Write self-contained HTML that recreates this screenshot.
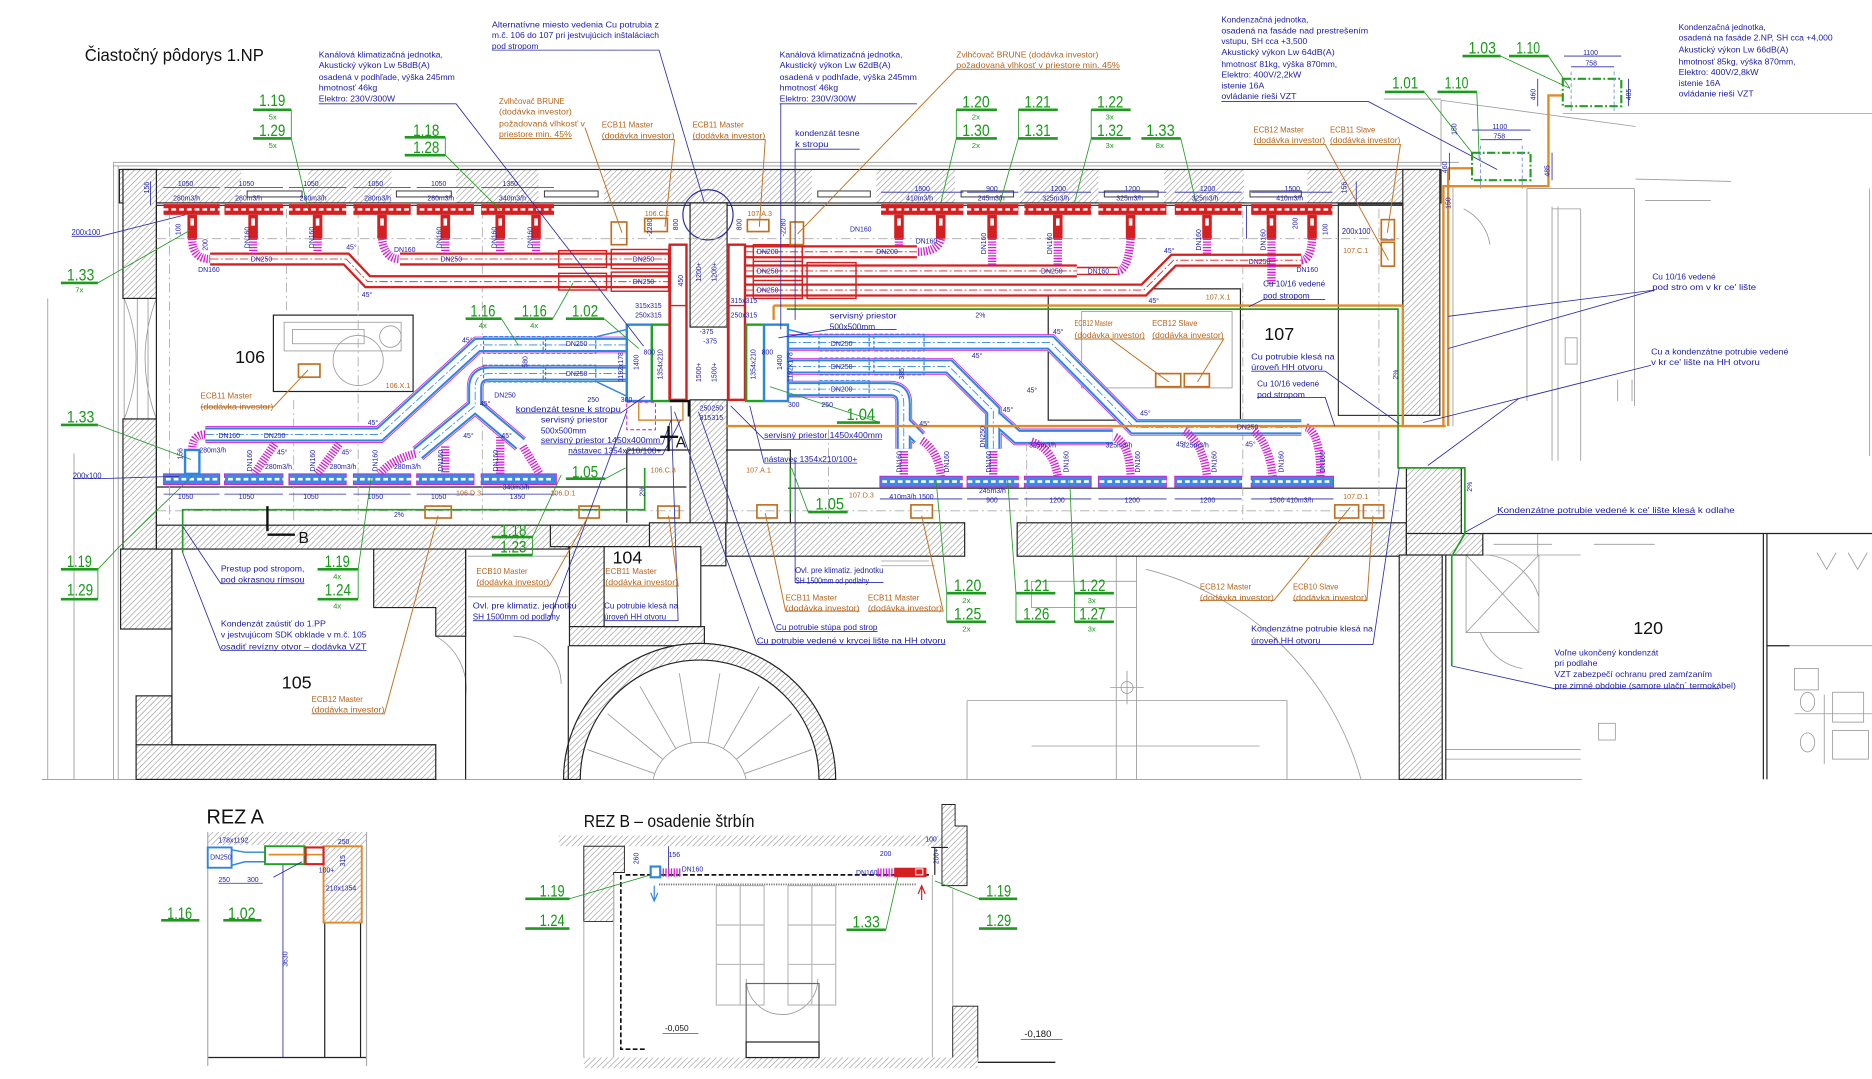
<!DOCTYPE html>
<html><head><meta charset="utf-8">
<style>
html,body{margin:0;padding:0;background:#fff;overflow:hidden}
svg{display:block}
text{font-family:"Liberation Sans",sans-serif}
.b{fill:#1c1ca8;font-size:7px}
.o{fill:#b5651d;font-size:7px}
.g{fill:#179a17;font-size:14px}
.gs{fill:#179a17;font-size:6.5px}
.d{fill:#1c1ca8;font-size:6.2px}
.ds{fill:#1c1ca8;font-size:5.8px}
.k{fill:#111}
.rd{fill:none;stroke:#d42020;stroke-width:11;stroke-linejoin:miter}
.rw{fill:none;stroke:#fff;stroke-width:7.2}
.rc{fill:none;stroke:#d42020;stroke-width:.7;stroke-dasharray:7 2 1.5 2}
.bmg{fill:none;stroke:#d61fd6;stroke-width:14}
.bw0{fill:none;stroke:#fff;stroke-width:12.6}
.bb{fill:none;stroke:#2f86e0;stroke-width:11.8}
.bw{fill:none;stroke:#fff;stroke-width:8.4}
.bc{fill:none;stroke:#2f86e0;stroke-width:.7;stroke-dasharray:7 2 1.5 2}
.mg{fill:none;stroke:#d61fd6;stroke-width:7;stroke-dasharray:1.1 1.2}
.lb{fill:none;stroke:#2a2aa8;stroke-width:.7}
.lo{fill:none;stroke:#c07020;stroke-width:.8}
.lg{fill:none;stroke:#1f9a1f;stroke-width:.7}
.ul{stroke:#1f9a1f;stroke-width:2.2}
.gr{fill:none;stroke:#9a9a9a;stroke-width:.7}
.dd{fill:none;stroke:#aaa;stroke-width:.7;stroke-dasharray:8 3 1.5 3}
.w{fill:url(#h);stroke:#222;stroke-width:1}
.ob{fill:none;stroke:#c07020;stroke-width:1.4}
</style></head><body>
<svg width="1872" height="1079" viewBox="0 0 1568 904" preserveAspectRatio="none" xmlns="http://www.w3.org/2000/svg" xmlns:xlink="http://www.w3.org/1999/xlink">
<defs>
<pattern id="h" width="3.4" height="3.4" patternUnits="userSpaceOnUse" patternTransform="rotate(45)"><rect width="3.4" height="3.4" fill="#fff"/><line x1="0" y1="0" x2="0" y2="3.4" stroke="#8a8a8a" stroke-width="0.9"/></pattern>
<path id="r1" d="M176,217 H290 L308,236 H561"/>
<path id="r2" d="M335,217 H561"/>
<path id="r3" d="M624,211 H768"/>
<path id="r4" d="M624,227 H902"/>
<path id="r5" d="M624,243 H958 L983,218 H1090"/>
<path id="b1" d="M525,289 H400 L318,364 H172"/>
<path id="b2" d="M525,313 H410 Q398,313 398,325 V340 L350,380"/>
<path id="b3" d="M398,340 L436,372"/>
<path id="b4" d="M660,287 H880 L950,358 H1090"/>
<path id="b5" d="M660,307 H795 L832,344 V376"/>
<path id="b6" d="M834,350 L852,366 H932"/>
<path id="b7" d="M660,326 H745 Q757,326 757,338 V376"/>
<path id="b8" d="M757,354 L770,367"/>
</defs>

<!-- ============ TITLE ============ -->
<text class="k" x="71" y="51" font-size="15" textLength="150" lengthAdjust="spacingAndGlyphs">Čiastočný pôdorys 1.NP</text>

<!-- ============ LIGHT BACKGROUND LINES ============ -->
<g class="gr">
<path d="M95,136 H1222 M95,139 H1207"/>
<path d="M95,136 V653 M99,139 V653 M40,250 V653 M62,380 V653"/>
<path d="M35,653 H1325"/>
<path d="M104,250 V351 M115,250 V351 M124,250 V351 M131,250 V351"/>
<path d="M131,250 Q112,300 131,351 M104,250 Q124,300 104,351"/>
<path d="M1159,83 H1207 M1207,84 L1370,106 M1309,95 H1568 M1207,84 V139 M1279,158 H1369 M1279,158 V336 M1369,158 V340 M1378,168 H1433 M1370,150 L1450,152"/>
<path d="M1300,173 V386 M1305,173 V386 M1324,175 V386 M1300,175 H1324 M1355,318 V336 M1367,318 V336 M1566,158 V382"/>
<path d="M1217,155 V357"/>
<path d="M1226,175 A40,40 0 0 1 1248,205"/>
<path d="M1311,283 h10 v22 h-10z"/>
<path d="M810,587 H1078 V653 M810,587 V653 M864,625 H1055 M935,466 V653 M952,466 V653 M864,487 h88 v22 h-88z"/>
<path d="M960,477 A250,250 0 0 1 1140,653"/>
<path d="M930,576 h28 M944,562 v28"/>
<circle cx="944" cy="576" r="5"/>
<path d="M738,470 h40 M738,474 h45"/>
<path d="M1228,465 h61 v65 h-61z M1228,465 L1289,530 M1289,465 L1228,530"/>
<path d="M1245,465 A50,50 0 0 1 1289,500 M1240,530 A45,45 0 0 0 1275,560"/>
<path d="M1251,456 H1300 M1335,456 H1386"/>
<path d="M1288,447 V465 H1324"/>
<path d="M1211,628 H1324 M1211,636 H1324"/>
<path d="M1499,541 H1568"/>
<rect x="1339" y="606" width="14" height="14"/>
<rect x="1503" y="560" width="20" height="18"/>
<rect x="1535" y="580" width="26" height="25"/>
<rect x="1535" y="612" width="30" height="24"/>
<path d="M1503,598 H1568 M1528,582 V640 M1508,588 a6,8 0 1 0 12,0 a6,8 0 1 0 -12,0 M1508,622 a6,8 0 1 0 12,0 a6,8 0 1 0 -12,0"/>
<path d="M1522,463 l8,14 l8,-14 M1548,463 l8,14 l8,-14"/>
<path d="M392,466 H476 M392,500 h84 M430,533 a40,40 0 0 1 40,40"/>
<path d="M365,533 A50,50 0 0 1 390,583"/>
<!-- stair steps -->
<path d="M548,648 L492,628 M555,636 L509,598 M566,627 L536,575 M579,623 L569,564 M593,623 L603,564 M606,627 L636,575 M617,636 L663,598 M624,648 L680,628"/>
<path d="M547,653 A40,40 0 0 1 625,653"/>
<path d="M625,820 a30,30 0 0 0 60,0"/>
</g>

<!-- ============ WALLS ============ -->
<g class="w">
<rect x="100" y="142" width="1107" height="28"/>
<rect x="103" y="142" width="28" height="108"/>
<rect x="103" y="351" width="28" height="109"/>
<rect x="101" y="460" width="43" height="67"/>
<rect x="114" y="583" width="30" height="70"/>
<rect x="114" y="624" width="251" height="29"/>
<rect x="131" y="440" width="345" height="20"/>
<path d="M313,460 H390 V533 H365 V509 H313 Z"/>
<rect x="461" y="440" width="129" height="18"/>
<rect x="477" y="458" width="29" height="67"/>
<rect x="477" y="525" width="113" height="16"/>
<rect x="578" y="170" width="31" height="104"/>
<rect x="578" y="335" width="31" height="110"/>
<rect x="544" y="438" width="64" height="36"/>
<rect x="608" y="438" width="200" height="28"/>
<rect x="852" y="438" width="326" height="28"/>
<rect x="1175" y="142" width="31" height="206"/>
<rect x="1178" y="392" width="46" height="55"/>
<rect x="1178" y="447" width="64" height="18"/>
<rect x="1172" y="465" width="36" height="188"/>
<path d="M472,653 A114,114 0 0 1 700,653 H686 A100,100 0 0 0 486,653 Z"/>
</g>
<!-- window gaps in top wall -->
<g fill="#fff" stroke="#333" stroke-width=".8">
<rect x="202" y="142.5" width="56" height="27" stroke="none"/>
<rect x="328" y="142.5" width="54" height="27" stroke="none"/>
<rect x="451" y="142.5" width="55" height="27" stroke="none"/>
<rect x="680" y="142.5" width="54" height="27" stroke="none"/>
<rect x="800" y="142.5" width="54" height="27" stroke="none"/>
<rect x="920" y="142.5" width="55" height="27" stroke="none"/>
<rect x="1042" y="142.5" width="53" height="27" stroke="none"/>
<rect x="207" y="160" width="46" height="5"/>
<rect x="332" y="160" width="46" height="5"/>
<rect x="456" y="160" width="45" height="5"/>
<rect x="685" y="160" width="44" height="5"/>
<rect x="805" y="160" width="44" height="5"/>
<rect x="925" y="160" width="45" height="5"/>
<rect x="1047" y="160" width="43" height="5"/>
</g>
<circle cx="593" cy="180" r="21" fill="none" stroke="#2a2aa8" stroke-width="1"/>

<!-- room outlines -->
<g fill="none" stroke="#222" stroke-width="1">
<path d="M131,172 H578 M131,440 V172 M609,172 H1175"/>
<path d="M131,408 H575 M660,409 H1178 M608,377 H662 V438 M525,377 H578 M525,377 V438"/>
<path d="M144,460 V624 H365 M390,460 V653 M476,541 V653"/>
<rect x="506" y="458" width="81" height="67" fill="#fff"/>
<rect x="1121" y="171" width="54" height="177" stroke-width=".9"/>
<rect x="878" y="242" width="161" height="110"/>
<path d="M1242,447 H1568 M1211,465 V653 M1477,447 V653 M1480,447 V653 M1480,541 H1499"/>
<rect x="229" y="264" width="117" height="64"/>
</g>
<g class="gr">
<rect x="906" y="261" width="126" height="64"/>
<rect x="238" y="270" width="98" height="24"/>
<rect x="245" y="276" width="60" height="12"/>
<circle cx="300" cy="302" r="21"/>
<circle cx="327" cy="282" r="9"/>
</g>
<!-- dash-dot ceiling grid -->
<g class="dd">
<path d="M131,200 H1172 M131,428 H575 M610,428 H1172"/>
<path d="M142,175 V438 M240,175 V260 M246,335 V438 M300,175 V438 M404,175 V438 M1041,175 V438 M1155,175 V438 M694,360 V438 M860,370 V438"/>
</g>

<!-- ============ RED SUPPLY ============ -->
<g>
<use href="#r1" class="rd"/><use href="#r1" class="rw"/><use href="#r1" class="rc"/>
<use href="#r2" class="rd"/><use href="#r2" class="rw"/><use href="#r2" class="rc"/>
<use href="#r3" class="rd"/><use href="#r3" class="rw"/><use href="#r3" class="rc"/>
<use href="#r4" class="rd"/><use href="#r4" class="rw"/><use href="#r4" class="rc"/>
<use href="#r5" class="rd"/><use href="#r5" class="rw"/><use href="#r5" class="rc"/>
<path d="M902,227 H936" stroke="#d42020" stroke-width="7" fill="none"/><path d="M902,227 H936" stroke="#fff" stroke-width="4.6" fill="none"/>
</g>
<g fill="none" stroke="#d42020" stroke-width="1.2">
<rect x="468" y="210" width="40" height="14"/><rect x="468" y="229" width="40" height="14"/>
<rect x="512" y="209" width="48" height="16"/><rect x="512" y="228" width="48" height="16"/>
<rect x="631" y="205" width="41" height="45"/><rect x="676" y="220" width="41" height="30"/>
<path d="M631,219 H672 M631,235 H672"/>
<rect x="561" y="205" width="14" height="130" stroke-width="2"/>
<rect x="610" y="205" width="14" height="130" stroke-width="2"/>
<path d="M561,256 H575 M610,256 H624"/>
</g>
<!-- red bars top -->
<g fill="#d42020">
<rect x="137" y="171" width="47" height="9"/><rect x="188" y="171" width="49" height="9"/><rect x="242" y="171" width="48" height="9"/>
<rect x="296" y="171" width="48" height="9"/><rect x="349" y="171" width="48" height="9"/><rect x="403" y="171" width="61" height="9"/>
<rect x="738" y="171" width="69" height="9"/><rect x="810" y="171" width="43" height="9"/><rect x="858" y="171" width="56" height="9"/>
<rect x="920" y="171" width="57" height="9"/><rect x="984" y="171" width="56" height="9"/><rect x="1048" y="171" width="68" height="9"/>
</g>
<path d="M137,175.5 H464 M738,175.5 H1116" stroke="#fff" stroke-width="2" stroke-dasharray="4 2.5"/>
<g fill="#d42020">
<rect x="157" y="180" width="8" height="20"/><rect x="208" y="180" width="8" height="20"/><rect x="262" y="180" width="8" height="20"/>
<rect x="316" y="180" width="8" height="20"/><rect x="369" y="180" width="8" height="20"/><rect x="415" y="180" width="8" height="20"/>
<rect x="445" y="180" width="8" height="20"/>
<rect x="749" y="180" width="8" height="20"/><rect x="784" y="180" width="8" height="20"/><rect x="827" y="180" width="8" height="20"/>
<rect x="882" y="180" width="8" height="20"/><rect x="943" y="180" width="8" height="20"/><rect x="1007" y="180" width="8" height="20"/>
<rect x="1061" y="180" width="8" height="20"/><rect x="1095" y="180" width="8" height="20"/>
</g>
<path d="M161,183 v6 M212,183 v6 M266,183 v6 M320,183 v6 M373,183 v6 M419,183 v6 M449,183 v6 M753,183 v6 M788,183 v6 M831,183 v6 M886,183 v6 M947,183 v6 M1011,183 v6 M1065,183 v6 M1099,183 v6" stroke="#fff" stroke-width="3"/>
<!-- magenta flex (red) -->
<g class="mg">
<path d="M161,200 Q161,217 176,217"/><path d="M212,200 V212"/><path d="M266,200 V211"/><path d="M320,200 Q322,217 335,217"/>
<path d="M373,200 V212"/><path d="M419,200 V212"/><path d="M449,200 V212"/>
<path d="M753,200 V206"/><path d="M788,200 Q786,211 768,211"/><path d="M831,200 V222"/><path d="M886,200 V222"/>
<path d="M947,200 Q945,227 936,227"/><path d="M1011,200 V213"/><path d="M1065,200 V238"/><path d="M1099,200 Q1098,218 1090,218"/>
</g>

<!-- ============ BLUE RETURN ============ -->
<g>
<use href="#b1" class="bmg"/><use href="#b2" class="bmg"/><use href="#b3" class="bmg"/>
<use href="#b4" class="bmg"/><use href="#b5" class="bmg"/><use href="#b6" class="bmg"/><use href="#b7" class="bmg"/><use href="#b8" class="bmg"/>
<use href="#b1" class="bw0"/><use href="#b2" class="bw0"/><use href="#b3" class="bw0"/>
<use href="#b4" class="bw0"/><use href="#b5" class="bw0"/><use href="#b6" class="bw0"/><use href="#b7" class="bw0"/><use href="#b8" class="bw0"/>
<use href="#b1" class="bb"/><use href="#b2" class="bb"/><use href="#b3" class="bb"/>
<use href="#b4" class="bb"/><use href="#b5" class="bb"/><use href="#b6" class="bb"/><use href="#b7" class="bb"/><use href="#b8" class="bb"/>
<use href="#b1" class="bw"/><use href="#b2" class="bw"/><use href="#b3" class="bw"/>
<use href="#b4" class="bw"/><use href="#b5" class="bw"/><use href="#b6" class="bw"/><use href="#b7" class="bw"/><use href="#b8" class="bw"/>
<use href="#b1" class="bc"/><use href="#b2" class="bc"/><use href="#b4" class="bc"/><use href="#b5" class="bc"/><use href="#b7" class="bc"/>
</g>
<g fill="none" stroke="#2f86e0" stroke-width="1" stroke-dasharray="3 1.5">
<rect x="405" y="282" width="50" height="14"/><rect x="457" y="282" width="42" height="14"/>
<rect x="405" y="306" width="50" height="14"/><rect x="457" y="306" width="42" height="14"/>
<rect x="686" y="280" width="42" height="14"/><rect x="732" y="280" width="42" height="14"/>
<rect x="686" y="300" width="42" height="14"/><rect x="732" y="300" width="42" height="14"/>
<rect x="686" y="319" width="42" height="14"/>
</g>
<!-- plenums -->
<g fill="#fff" stroke-width="2">
<rect x="525" y="272" width="21" height="64" stroke="#2f86e0"/>
<rect x="546" y="272" width="15" height="64" stroke="#22a022"/>
<rect x="625" y="272" width="15" height="64" stroke="#22a022"/>
<rect x="640" y="272" width="20" height="64" stroke="#2f86e0"/>
</g>
<path d="M561,335 V205 M610,335 V205" stroke="#d42020" stroke-width="2.4"/>
<path d="M500,282 L525,276 M500,320 L525,332 M660,276 L680,281 M660,332 L680,331" stroke="#2f86e0" stroke-width="1.2"/>
<rect x="525" y="337" width="24" height="23" fill="none" stroke="#d61fd6" stroke-width=".9" stroke-dasharray="3 2"/>
<path d="M535,337 V352 H572 V337" fill="none" stroke="#d88a30" stroke-width="1.2"/>
<!-- blue bars -->
<g fill="#3a8ae0" stroke="#d61fd6" stroke-width=".8">
<rect x="137" y="397" width="47" height="9"/><rect x="188" y="397" width="49" height="9"/><rect x="242" y="397" width="48" height="9"/>
<rect x="296" y="397" width="48" height="9"/><rect x="349" y="397" width="48" height="9"/><rect x="403" y="397" width="63" height="9"/>
<rect x="737" y="399" width="69" height="9"/><rect x="810" y="399" width="43" height="9"/><rect x="858" y="399" width="56" height="9"/>
<rect x="920" y="399" width="57" height="9"/><rect x="984" y="399" width="56" height="9"/><rect x="1048" y="399" width="69" height="9"/>
</g>
<path d="M139,401.5 H464 M739,403.5 H1115" stroke="#fff" stroke-width="2.2" stroke-dasharray="4 2.5"/>
<rect x="155" y="377" width="12" height="20" fill="#fff" stroke="#2f86e0" stroke-width="2"/>
<g class="mg">
<path d="M172,364 Q161,364 161,377"/><path d="M230,372 L213,397"/><path d="M284,372 L266,397"/><path d="M348,380 Q328,385 318,397"/>
<path d="M373,374 V397"/><path d="M419,366 V397"/><path d="M438,374 L452,397"/>
<path d="M757,378 V399"/><path d="M772,369 Q786,378 788,399"/><path d="M832,378 V399"/><path d="M864,370 Q882,376 886,399"/>
<path d="M934,366 Q946,372 947,399"/><path d="M992,361 Q1008,372 1011,399"/><path d="M1050,361 Q1063,372 1066,399"/><path d="M1094,358 Q1106,362 1106,399"/>
</g>

<!-- ============ ORANGE / GREEN PIPES ============ -->
<g fill="none" stroke="#e08a2a" stroke-width="2">
<path d="M648,256 H1175 V357"/>
<path d="M608,357 H1211"/>
<path d="M1209,155 V357 M1213,141 V357"/>
<path d="M1233,141 H1213 M1309,80 H1297 V156 H1209"/>
<path d="M648,256 V268"/>
</g>
<g fill="none" stroke="#22a022" stroke-width="1.4">
<path d="M659,259 H1171 V392 H1227 V447 L1216,466 V558"/>
<path d="M153,463 V427 H540 V392"/>
<path d="M662,392 V430"/>
</g>

<!-- orange boxes -->
<g class="ob">
<rect x="540" y="183" width="19" height="11"/><rect x="512" y="186" width="13" height="19"/>
<rect x="626" y="184" width="18" height="10"/><rect x="662" y="186" width="11" height="19"/>
<rect x="250" y="305" width="18" height="11"/>
<rect x="968" y="313" width="21" height="11"/><rect x="992" y="313" width="21" height="11"/>
<rect x="1157" y="184" width="11" height="17"/><rect x="1157" y="203" width="11" height="20"/>
<rect x="356" y="424" width="22" height="10"/><rect x="485" y="424" width="17" height="10"/><rect x="551" y="424" width="18" height="10"/>
<rect x="634" y="423" width="17" height="11"/><rect x="763" y="423" width="18" height="11"/>
<rect x="1118" y="423" width="20" height="11"/><rect x="1142" y="423" width="17" height="11"/>
</g>

<!-- ============ DIMENSION LINES (thin blue) ============ -->
<g class="lb" stroke-width=".5">
<path d="M137,157 H184 M188,157 H237 M242,157 H290 M296,157 H344 M349,157 H397 M403,157 H464"/>
<path d="M738,161 H807 M810,161 H853 M858,161 H914 M920,161 H977 M984,161 H1040 M1048,161 H1116"/>
<path d="M137,414 H184 M188,414 H237 M242,414 H290 M296,414 H344 M349,414 H397 M403,414 H466"/>
<path d="M737,418 H806 M810,418 H853 M858,418 H914 M920,418 H977 M984,418 H1040 M1048,418 H1117"/>
<path d="M126,152 V172 M1136,152 V172"/>
<path d="M237,724 V886 M560,708 V730 M1044,172 V200"/>
</g>

<!-- ============ LEADER LINES ============ -->
<g class="lb">
<path d="M267,87 H382 L539,290"/>
<path d="M412,42 H552 L590,170"/>
<path d="M653,87 H768 M654,87 V276"/>
<path d="M720,125 H666 V268"/>
<path d="M1023,85 H1146 L1254,142"/>
<path d="M60,198 H84 L155,180"/>
<path d="M61,401 H84 L150,399"/>
<path d="M185,489 H255 M185,489 L153,441"/>
<path d="M185,545 H307 M185,545 L153,463"/>
<path d="M396,520 H460 L525,345"/>
<path d="M506,520 H568 L562,340"/>
<path d="M432,346 H520 L540,332"/>
<path d="M453,372 H555 L562,352 M476,381 H555 L570,352"/>
<path d="M666,488 H740 M666,488 V385"/>
<path d="M650,529 H735 M650,529 L585,345"/>
<path d="M634,540 H792 M634,540 L565,345"/>
<path d="M1048,540 H1150 L1172,392"/>
<path d="M1386,243 L1213,265 M1386,243 L1213,292"/>
<path d="M1383,306 L1272,334 M1383,306 L1192,354 M1272,334 L1196,390"/>
<path d="M1254,431 H1420 M1254,431 L1227,446"/>
<path d="M1302,577 H1440 M1302,577 L1216,558"/>
<path d="M1058,251 H1110 M1058,251 L1046,257"/>
<path d="M1048,311 H1110 L1172,355"/>
<path d="M1053,333 H1110 L1118,357"/>
<path d="M695,276 H751 M695,276 L652,283"/>
<path d="M640,368 H739 M640,368 L612,340"/>
<path d="M640,388 H718 M640,388 L628,340"/>
</g>
<g class="lo">
<path d="M418,116 H479 M490,107 L521,195"/>
<path d="M504,117 H565 L557,190"/>
<path d="M580,117 H641 L636,190"/>
<path d="M801,58 H938 M801,58 L668,196"/>
<path d="M1050,121 H1110 L1163,218"/>
<path d="M1114,121 H1173 L1162,195"/>
<path d="M168,341 H229 L258,310"/>
<path d="M261,598 H322 L367,432"/>
<path d="M399,491 H460 L493,432"/>
<path d="M507,491 H568 L560,432"/>
<path d="M658,512 H720 M658,512 L641,430"/>
<path d="M727,512 H790 L772,432"/>
<path d="M1005,503 H1067 L1131,425"/>
<path d="M1083,503 H1145 L1150,432"/>
<path d="M900,284 H959 M930,284 L979,320"/>
<path d="M965,284 H1025 L1003,320"/>
</g>
<g class="lg">
<path d="M244,92 V116 L258,175"/>
<path d="M373,115 V130 L419,176"/>
<path d="M82,237 L159,193"/>
<path d="M82,356 L160,385"/>
<path d="M82,477 V502 M82,477 L99,459 L161,399"/>
<path d="M300,477 V502 M300,477 L311,399"/>
<path d="M420,267 L434,289"/>
<path d="M463,267 L480,237"/>
<path d="M506,267 L535,292"/>
<path d="M446,450 V465 M446,450 L470,398"/>
<path d="M507,401 L524,392"/>
<path d="M737,354 L645,324"/>
<path d="M677,429 L663,392"/>
<path d="M801,92 V116 L788,170"/>
<path d="M853,92 V116 L837,172"/>
<path d="M914,92 V116 L900,170"/>
<path d="M989,116 L1002,170"/>
<path d="M793,497 V521 M793,497 L784,402"/>
<path d="M851,497 V521 M851,497 L844,402"/>
<path d="M900,497 V521 M900,497 L896,402"/>
<path d="M1193,77 L1233,128"/>
<path d="M1237,77 L1239,134"/>
<path d="M1257,47 L1315,74"/>
<path d="M1297,47 L1315,74"/>
</g>

<!-- ============ TOP RIGHT UNITS ============ -->
<g fill="none" stroke="#22a022" stroke-width="1.8" stroke-dasharray="7 2 1.5 2">
<rect x="1233" y="128" width="49" height="23"/>
<rect x="1309" y="66" width="49" height="23"/>
</g>
<g class="lb" stroke-width=".6">
<path d="M1233,109 H1282 M1240,117 H1275 M1214,128 V151 M1300,128 V151 M1310,47 H1358 M1316,56 H1352 M1288,66 V89 M1364,66 V89"/>
<path d="M1240,122 V158 M1275,122 V158 M1316,60 V94 M1352,60 V94" stroke="#6a8ad0" stroke-dasharray="3 2"/>
</g>
<text class="ds" x="1250" y="108">1100</text><text class="ds" x="1251" y="116">758</text>
<text class="ds" x="1326" y="46">1100</text><text class="ds" x="1328" y="55">758</text>
<text class="ds" transform="translate(1212,145) rotate(-90)">460</text>
<text class="ds" transform="translate(1298,148) rotate(-90)">485</text>
<text class="ds" transform="translate(1286,84) rotate(-90)">460</text>
<text class="ds" transform="translate(1366,84) rotate(-90)">485</text>
<text class="ds" transform="translate(1220,113) rotate(-90)">150</text>
<text class="ds" transform="translate(1215,175) rotate(-90)">150</text>

<!-- ============ SECTION MARKERS ============ -->
<path d="M224,424 V445 M224,448 H247" stroke="#111" stroke-width="2" fill="none"/>
<text class="k" x="250" y="455" font-size="13">B</text>
<path d="M561,336 H577 V349 M553,366 H568 M560,357 V378" stroke="#111" stroke-width="2" fill="none"/>
<text class="k" x="566" y="375" font-size="13">A</text>

<!-- ============ REZ A ============ -->
<text class="k" x="173" y="690" font-size="17" textLength="48" lengthAdjust="spacingAndGlyphs">REZ A</text>
<rect x="174" y="697" width="133" height="11" fill="url(#h)" stroke="none"/>
<g fill="none" stroke="#222" stroke-width="1">
<path d="M174,886 H307 M272,724 V886 M302,709 V886"/>
</g>
<path d="M174,697 V893 M307,697 V893" stroke="#aaa" stroke-width="1"/>
<rect x="271" y="709" width="32" height="64" fill="url(#h)" stroke="#e08a2a" stroke-width="1.6"/>
<rect x="174" y="710" width="20" height="17" fill="#fff" stroke="#2f86e0" stroke-width="1.6"/>
<path d="M194,712 L205,714 H222 M194,725 L205,722 H222" stroke="#2f86e0" stroke-width="1.2" fill="none"/>
<rect x="222" y="709" width="33" height="15" fill="#fff" stroke="#22a022" stroke-width="1.6"/>
<path d="M225,716 H270" stroke="#e08a2a" stroke-width="1.4"/>
<rect x="256" y="710" width="15" height="14" fill="none" stroke="#d42020" stroke-width="1.8"/>
<text class="ds" x="176" y="720">DN250</text>
<text class="ds" x="183" y="706">178x1192</text>
<text class="ds" x="283" y="707">250</text>
<text class="ds" x="183" y="739">250</text><text class="ds" x="207" y="739">300</text>
<text class="ds" x="267" y="731">100+</text>
<text class="ds" x="273" y="746">210x1354</text>
<text class="ds" transform="translate(289,726) rotate(-90)">315</text>
<text class="ds" transform="translate(241,810) rotate(-90)">3630</text>
<path d="M183,740 H220 M229,735 L253,722" class="lb"/>

<!-- ============ REZ B ============ -->
<text class="k" x="489" y="693" font-size="15" textLength="143" lengthAdjust="spacingAndGlyphs">REZ B – osadenie štrbín</text>
<rect x="468" y="700" width="324" height="9" fill="url(#h)" stroke="none"/>
<path d="M489,709 H523 V731 H514 V772 H489 Z" fill="url(#h)" stroke="#222" stroke-width=".8"/>
<path d="M789,674 H800 V692 H810 V742 H789 Z" fill="url(#h)" stroke="#222" stroke-width=".8"/>
<rect x="798" y="843" width="21" height="45" fill="url(#h)" stroke="#222" stroke-width=".8"/>
<rect x="489" y="886" width="330" height="9" fill="url(#h)" stroke="none"/>
<path d="M819,890 H884" stroke="#222" stroke-width="1.2"/>
<g fill="none" stroke="#bbb" stroke-width="1">
<path d="M489,772 V886 M514,733 V886 M781,733 V886 M798,745 V843"/>
<rect x="600" y="742" width="40" height="100"/><rect x="660" y="742" width="40" height="100"/>
<path d="M600,775 H640 M600,808 H640 M660,775 H700 M660,808 H700 M620,742 V842 M680,742 V842"/>
</g>
<path d="M524,733 H778 M520,733 V879 H540" stroke="#111" stroke-width="1.4" stroke-dasharray="4 2" fill="none"/>
<path d="M552,741 H768" stroke="#777" stroke-width="1.5" stroke-dasharray="1 1"/>
<rect x="625" y="824" width="61" height="62" fill="none" stroke="#666" stroke-width="1"/>
<rect x="625" y="873" width="61" height="13" fill="#fff" stroke="#222" stroke-width="1"/>
<path d="M780,710 H794 M783,710 V733" stroke="#222" stroke-width="1" fill="none"/>
<rect x="545" y="726" width="8" height="9" fill="#fff" stroke="#2f86e0" stroke-width="1.8"/>
<path d="M555,731 H570" class="mg" stroke-width="5"/>
<path d="M735,731 H749" class="mg" stroke-width="5"/>
<rect x="749" y="727" width="27" height="8" fill="#d42020"/>
<rect x="767" y="728" width="6" height="5" fill="none" stroke="#fff" stroke-width=".8"/>
<path d="M548,742 V754 M545,748 L548,755 L551,748" stroke="#2f86e0" stroke-width="1" fill="none"/>
<path d="M772,742 V754 M769,749 L772,742 L775,749" stroke="#d42020" stroke-width="1" fill="none"/>
<text class="ds" x="571" y="730">DN160</text>
<text class="ds" x="717" y="733">DN160</text>
<text class="ds" x="560" y="718">156</text>
<text class="ds" x="737" y="717">200</text>
<text class="ds" x="775" y="705">100</text>
<text class="ds" transform="translate(535,724) rotate(-90)">260</text>
<text class="ds" transform="translate(786,724) rotate(-90)">200+</text>
<text class="k" x="557" y="864" font-size="7">-0,050</text>
<text class="k" x="858" y="869" font-size="8">-0,180</text>
<path d="M555,866 H585 M855,871 H890" stroke="#555" stroke-width=".6"/>
<path d="M477,753 L545,733 M820,753 L783,738 M742,779 L752,735" class="lg"/>

<!-- ============ GREEN LABELS ============ -->
<g class="g">
<text x="217" y="89" textLength="22" lengthAdjust="spacingAndGlyphs">1.19</text>
<text x="217" y="114" textLength="22" lengthAdjust="spacingAndGlyphs">1.29</text>
<text x="346" y="114" textLength="22" lengthAdjust="spacingAndGlyphs">1.18</text>
<text x="346" y="128" textLength="22" lengthAdjust="spacingAndGlyphs">1.28</text>
<text x="56" y="235" textLength="23" lengthAdjust="spacingAndGlyphs">1.33</text>
<text x="56" y="354" textLength="23" lengthAdjust="spacingAndGlyphs">1.33</text>
<text x="394" y="265" textLength="21" lengthAdjust="spacingAndGlyphs">1.16</text>
<text x="437" y="265" textLength="21" lengthAdjust="spacingAndGlyphs">1.16</text>
<text x="479" y="265" textLength="22" lengthAdjust="spacingAndGlyphs">1.02</text>
<text x="479" y="400" textLength="22" lengthAdjust="spacingAndGlyphs">1.05</text>
<text x="56" y="475" textLength="21" lengthAdjust="spacingAndGlyphs">1.19</text>
<text x="56" y="499" textLength="22" lengthAdjust="spacingAndGlyphs">1.29</text>
<text x="272" y="475" textLength="21" lengthAdjust="spacingAndGlyphs">1.19</text>
<text x="272" y="499" textLength="22" lengthAdjust="spacingAndGlyphs">1.24</text>
<text x="419" y="449" textLength="22" lengthAdjust="spacingAndGlyphs">1.18</text>
<text x="419" y="463" textLength="22" lengthAdjust="spacingAndGlyphs">1.23</text>
<text x="709" y="352" textLength="24" lengthAdjust="spacingAndGlyphs">1.04</text>
<text x="683" y="427" textLength="24" lengthAdjust="spacingAndGlyphs">1.05</text>
<text x="806" y="90" textLength="23" lengthAdjust="spacingAndGlyphs">1.20</text>
<text x="806" y="114" textLength="23" lengthAdjust="spacingAndGlyphs">1.30</text>
<text x="858" y="90" textLength="22" lengthAdjust="spacingAndGlyphs">1.21</text>
<text x="858" y="114" textLength="22" lengthAdjust="spacingAndGlyphs">1.31</text>
<text x="919" y="90" textLength="22" lengthAdjust="spacingAndGlyphs">1.22</text>
<text x="919" y="114" textLength="22" lengthAdjust="spacingAndGlyphs">1.32</text>
<text x="960" y="114" textLength="24" lengthAdjust="spacingAndGlyphs">1.33</text>
<text x="1230" y="45" textLength="23" lengthAdjust="spacingAndGlyphs">1.03</text>
<text x="1270" y="45" textLength="20" lengthAdjust="spacingAndGlyphs">1.10</text>
<text x="1166" y="74" textLength="22" lengthAdjust="spacingAndGlyphs">1.01</text>
<text x="1210" y="74" textLength="20" lengthAdjust="spacingAndGlyphs">1.10</text>
<text x="799" y="495" textLength="23" lengthAdjust="spacingAndGlyphs">1.20</text>
<text x="799" y="519" textLength="23" lengthAdjust="spacingAndGlyphs">1.25</text>
<text x="857" y="495" textLength="22" lengthAdjust="spacingAndGlyphs">1.21</text>
<text x="857" y="519" textLength="22" lengthAdjust="spacingAndGlyphs">1.26</text>
<text x="904" y="495" textLength="22" lengthAdjust="spacingAndGlyphs">1.22</text>
<text x="904" y="519" textLength="22" lengthAdjust="spacingAndGlyphs">1.27</text>
<text x="140" y="770" textLength="21" lengthAdjust="spacingAndGlyphs">1.16</text>
<text x="191" y="770" textLength="23" lengthAdjust="spacingAndGlyphs">1.02</text>
<text x="452" y="751" textLength="21" lengthAdjust="spacingAndGlyphs">1.19</text>
<text x="452" y="776" textLength="21" lengthAdjust="spacingAndGlyphs">1.24</text>
<text x="714" y="777" textLength="23" lengthAdjust="spacingAndGlyphs">1.33</text>
<text x="826" y="751" textLength="21" lengthAdjust="spacingAndGlyphs">1.19</text>
<text x="826" y="776" textLength="21" lengthAdjust="spacingAndGlyphs">1.29</text>
</g>
<g class="ul">
<path d="M212,92 H244 M212,116 H244 M339,115 H373 M339,130 H373 M51,237 H82 M51,356 H82 M390,267 H420 M431,267 H463 M474,267 H506 M474,401 H507"/>
<path d="M51,477 H82 M51,502 H82 M266,477 H300 M266,502 H300 M412,450 H446 M412,465 H446 M701,354 H737 M677,429 H710"/>
<path d="M801,92 H835 M801,116 H835 M853,92 H886 M853,116 H886 M914,92 H947 M914,116 H947 M956,116 H989"/>
<path d="M1225,47 H1257 M1264,47 H1297 M1160,77 H1193 M1204,77 H1237"/>
<path d="M793,497 H826 M793,521 H826 M851,497 H884 M851,521 H884 M900,497 H933 M900,521 H933"/>
<path d="M135,771 H167 M187,771 H219 M440,753 H477 M440,778 H477 M709,779 H742 M820,753 H852 M820,778 H852"/>
</g>
<g class="gs">
<text x="225" y="100">5x</text><text x="225" y="124">5x</text><text x="63" y="245">7x</text>
<text x="401" y="275">4x</text><text x="444" y="275">4x</text>
<text x="279" y="485">4x</text><text x="279" y="510">4x</text>
<text x="814" y="100">2x</text><text x="814" y="124">2x</text><text x="926" y="100">3x</text><text x="926" y="124">3x</text><text x="968" y="124">8x</text>
<text x="806" y="505">2x</text><text x="806" y="529">2x</text><text x="911" y="505">3x</text><text x="911" y="529">3x</text>
</g>

<!-- ============ BLUE TEXT BLOCKS ============ -->
<g class="b">
<text x="267" y="48" textLength="104" lengthAdjust="spacingAndGlyphs">Kanálová klimatizačná jednotka,</text>
<text x="267" y="57" textLength="93" lengthAdjust="spacingAndGlyphs">Akustický výkon Lw 58dB(A)</text>
<text x="267" y="67" textLength="114" lengthAdjust="spacingAndGlyphs">osadená v podhľade, výška 245mm</text>
<text x="267" y="76" textLength="49" lengthAdjust="spacingAndGlyphs">hmotnosť 46kg</text>
<text x="267" y="85" textLength="64" lengthAdjust="spacingAndGlyphs">Elektro: 230V/300W</text>
<text x="412" y="23" textLength="140" lengthAdjust="spacingAndGlyphs">Alternatívne miesto vedenia Cu potrubia z</text>
<text x="412" y="32" textLength="140" lengthAdjust="spacingAndGlyphs">m.č. 106 do 107 pri jestvujúcich inštaláciach</text>
<text x="412" y="41" textLength="39" lengthAdjust="spacingAndGlyphs">pod stropom</text>
<text x="653" y="48" textLength="103" lengthAdjust="spacingAndGlyphs">Kanálová klimatizačná jednotka,</text>
<text x="653" y="57" textLength="93" lengthAdjust="spacingAndGlyphs">Akustický výkon Lw 62dB(A)</text>
<text x="653" y="67" textLength="115" lengthAdjust="spacingAndGlyphs">osadená v podhľade, výška 245mm</text>
<text x="653" y="76" textLength="49" lengthAdjust="spacingAndGlyphs">hmotnosť 46kg</text>
<text x="653" y="85" textLength="64" lengthAdjust="spacingAndGlyphs">Elektro: 230V/300W</text>
<text x="666" y="114" textLength="54" lengthAdjust="spacingAndGlyphs">kondenzát tesne</text>
<text x="666" y="123" textLength="28" lengthAdjust="spacingAndGlyphs">k stropu</text>
<text x="1023" y="19" textLength="73" lengthAdjust="spacingAndGlyphs">Kondenzačná jednotka,</text>
<text x="1023" y="28" textLength="123" lengthAdjust="spacingAndGlyphs">osadená na fasáde nad prestrešením</text>
<text x="1023" y="37" textLength="72" lengthAdjust="spacingAndGlyphs">vstupu, SH cca +3,500</text>
<text x="1023" y="46" textLength="95" lengthAdjust="spacingAndGlyphs">Akustický výkon Lw 64dB(A)</text>
<text x="1023" y="56" textLength="97" lengthAdjust="spacingAndGlyphs">hmotnosť 81kg, výška 870mm,</text>
<text x="1023" y="65" textLength="67" lengthAdjust="spacingAndGlyphs">Elektro: 400V/2,2kW</text>
<text x="1023" y="74" textLength="36" lengthAdjust="spacingAndGlyphs">istenie 16A</text>
<text x="1023" y="83" textLength="63" lengthAdjust="spacingAndGlyphs">ovládanie rieši VZT</text>
<text x="1406" y="25" textLength="73" lengthAdjust="spacingAndGlyphs">Kondenzačná jednotka,</text>
<text x="1406" y="34" textLength="129" lengthAdjust="spacingAndGlyphs">osadená na fasáde 2.NP, SH cca +4,000</text>
<text x="1406" y="44" textLength="92" lengthAdjust="spacingAndGlyphs">Akustický výkon Lw 66dB(A)</text>
<text x="1406" y="54" textLength="98" lengthAdjust="spacingAndGlyphs">hmotnosť 85kg, výška 870mm,</text>
<text x="1406" y="63" textLength="67" lengthAdjust="spacingAndGlyphs">Elektro: 400V/2,8kW</text>
<text x="1406" y="72" textLength="35" lengthAdjust="spacingAndGlyphs">istenie 16A</text>
<text x="1406" y="81" textLength="63" lengthAdjust="spacingAndGlyphs">ovládanie rieši VZT</text>
<text x="1384" y="234" textLength="53" lengthAdjust="spacingAndGlyphs">Cu 10/16 vedené</text>
<text x="1384" y="243" textLength="87" lengthAdjust="spacingAndGlyphs">pod stro om v kr ce' lište</text>
<text x="1383" y="297" textLength="115" lengthAdjust="spacingAndGlyphs">Cu a kondenzátne potrubie vedené</text>
<text x="1383" y="306" textLength="91" lengthAdjust="spacingAndGlyphs">v kr ce' lište na HH otvoru</text>
<text x="1254" y="430" textLength="199" lengthAdjust="spacingAndGlyphs">Kondenzátne potrubie vedené   k  ce' lište klesá k  odlahe</text>
<text x="1302" y="549" textLength="87" lengthAdjust="spacingAndGlyphs">Voľne ukončený kondenzát</text>
<text x="1302" y="558" textLength="36" lengthAdjust="spacingAndGlyphs">pri podlahe</text>
<text x="1302" y="567" textLength="132" lengthAdjust="spacingAndGlyphs">VZT zabezpečí ochranu pred zamŕzaním</text>
<text x="1302" y="577" textLength="152" lengthAdjust="spacingAndGlyphs">pre zimné obdobie (samore ulačn´ termokábel)</text>
<text x="1058" y="240" textLength="52" lengthAdjust="spacingAndGlyphs">Cu 10/16 vedené</text>
<text x="1058" y="250" textLength="39" lengthAdjust="spacingAndGlyphs">pod stropom</text>
<text x="1048" y="301" textLength="70" lengthAdjust="spacingAndGlyphs">Cu potrubie klesá na</text>
<text x="1048" y="310" textLength="60" lengthAdjust="spacingAndGlyphs">úroveň HH otvoru</text>
<text x="1053" y="324" textLength="52" lengthAdjust="spacingAndGlyphs">Cu 10/16 vedené</text>
<text x="1053" y="333" textLength="40" lengthAdjust="spacingAndGlyphs">pod stropom</text>
<text x="695" y="267" textLength="56" lengthAdjust="spacingAndGlyphs">servisný priestor</text>
<text x="695" y="276" textLength="38" lengthAdjust="spacingAndGlyphs">500x500mm</text>
<text x="640" y="367" textLength="99" lengthAdjust="spacingAndGlyphs">servisný priestor 1450x400mm</text>
<text x="640" y="387" textLength="78" lengthAdjust="spacingAndGlyphs">nástavec 1354x210/100+</text>
<text x="432" y="345" textLength="88" lengthAdjust="spacingAndGlyphs">kondenzát tesne k stropu</text>
<text x="453" y="354" textLength="56" lengthAdjust="spacingAndGlyphs">servisný priestor</text>
<text x="453" y="363" textLength="38" lengthAdjust="spacingAndGlyphs">500x500mm</text>
<text x="453" y="371" textLength="100" lengthAdjust="spacingAndGlyphs">servisný priestor 1450x400mm</text>
<text x="476" y="380" textLength="78" lengthAdjust="spacingAndGlyphs">nástavec 1354x210/100+</text>
<text x="185" y="479" textLength="70" lengthAdjust="spacingAndGlyphs">Prestup pod stropom,</text>
<text x="185" y="488" textLength="70" lengthAdjust="spacingAndGlyphs">pod okrasnou rímsou</text>
<text x="185" y="525" textLength="88" lengthAdjust="spacingAndGlyphs">Kondenzát zaústiť do 1.PP</text>
<text x="185" y="534" textLength="122" lengthAdjust="spacingAndGlyphs">v jestvujúcom SDK obklade v m.č. 105</text>
<text x="185" y="544" textLength="122" lengthAdjust="spacingAndGlyphs">osadiť revízny otvor – dodávka VZT</text>
<text x="396" y="510" textLength="87" lengthAdjust="spacingAndGlyphs">Ovl. pre klimatiz. jednotku</text>
<text x="396" y="519" textLength="73" lengthAdjust="spacingAndGlyphs">SH 1500mm od podlahy</text>
<text x="506" y="510" textLength="62" lengthAdjust="spacingAndGlyphs">Cu potrubie klesá na</text>
<text x="506" y="519" textLength="52" lengthAdjust="spacingAndGlyphs">úroveň HH otvoru</text>
<text x="666" y="480" textLength="74" lengthAdjust="spacingAndGlyphs">Ovl. pre klimatiz. jednotku</text>
<text x="666" y="489" textLength="62" lengthAdjust="spacingAndGlyphs">SH 1500mm od podlahy</text>
<text x="650" y="528" textLength="85" lengthAdjust="spacingAndGlyphs">Cu potrubie stúpa pod strop</text>
<text x="634" y="539" textLength="158" lengthAdjust="spacingAndGlyphs">Cu potrubie vedené v krycej lište na HH otvoru</text>
<text x="1048" y="529" textLength="102" lengthAdjust="spacingAndGlyphs">Kondenzátne potrubie klesá na</text>
<text x="1048" y="539" textLength="58" lengthAdjust="spacingAndGlyphs">úroveň HH otvoru</text>
<text x="60" y="197" textLength="24" lengthAdjust="spacingAndGlyphs">200x100</text>
<text x="61" y="401" textLength="24" lengthAdjust="spacingAndGlyphs">200x100</text>
<text x="1124" y="196" textLength="24" lengthAdjust="spacingAndGlyphs">200x100</text>
</g>

<!-- ============ ORANGE TEXT ============ -->
<g class="o">
<text x="418" y="87" textLength="55" lengthAdjust="spacingAndGlyphs">Zvlhčovač BRUNE</text>
<text x="418" y="96" textLength="61" lengthAdjust="spacingAndGlyphs">(dodávka investor)</text>
<text x="418" y="106" textLength="72" lengthAdjust="spacingAndGlyphs">požadovaná vlhkosť v</text>
<text x="418" y="115" textLength="61" lengthAdjust="spacingAndGlyphs">priestore min. 45%</text>
<text x="504" y="107" textLength="43" lengthAdjust="spacingAndGlyphs">ECB11 Master</text>
<text x="504" y="116" textLength="61" lengthAdjust="spacingAndGlyphs">(dodávka investor)</text>
<text x="580" y="107" textLength="43" lengthAdjust="spacingAndGlyphs">ECB11 Master</text>
<text x="580" y="116" textLength="61" lengthAdjust="spacingAndGlyphs">(dodávka investor)</text>
<text x="801" y="48" textLength="119" lengthAdjust="spacingAndGlyphs">Zvlhčovač BRUNE (dodávka investor)</text>
<text x="801" y="57" textLength="137" lengthAdjust="spacingAndGlyphs">požadovaná vlhkosť v priestore min. 45%</text>
<text x="1050" y="111" textLength="42" lengthAdjust="spacingAndGlyphs">ECB12 Master</text>
<text x="1050" y="120" textLength="60" lengthAdjust="spacingAndGlyphs">(dodávka investor)</text>
<text x="1114" y="111" textLength="38" lengthAdjust="spacingAndGlyphs">ECB11 Slave</text>
<text x="1114" y="120" textLength="59" lengthAdjust="spacingAndGlyphs">(dodávka investor)</text>
<text x="168" y="334" textLength="43" lengthAdjust="spacingAndGlyphs">ECB11 Master</text>
<text x="168" y="343" textLength="61" lengthAdjust="spacingAndGlyphs">(dodávka investor)</text>
<text x="900" y="273" textLength="32" lengthAdjust="spacingAndGlyphs">ECB12 Master</text>
<text x="900" y="283" textLength="59" lengthAdjust="spacingAndGlyphs">(dodávka investor)</text>
<text x="965" y="273" textLength="38" lengthAdjust="spacingAndGlyphs">ECB12 Slave</text>
<text x="965" y="283" textLength="60" lengthAdjust="spacingAndGlyphs">(dodávka investor)</text>
<text x="261" y="588" textLength="43" lengthAdjust="spacingAndGlyphs">ECB12 Master</text>
<text x="261" y="597" textLength="61" lengthAdjust="spacingAndGlyphs">(dodávka investor)</text>
<text x="399" y="481" textLength="43" lengthAdjust="spacingAndGlyphs">ECB10 Master</text>
<text x="399" y="490" textLength="61" lengthAdjust="spacingAndGlyphs">(dodávka investor)</text>
<text x="507" y="481" textLength="43" lengthAdjust="spacingAndGlyphs">ECB11 Master</text>
<text x="507" y="490" textLength="61" lengthAdjust="spacingAndGlyphs">(dodávka investor)</text>
<text x="658" y="503" textLength="43" lengthAdjust="spacingAndGlyphs">ECB11 Master</text>
<text x="658" y="512" textLength="62" lengthAdjust="spacingAndGlyphs">(dodávka investor)</text>
<text x="727" y="503" textLength="43" lengthAdjust="spacingAndGlyphs">ECB11 Master</text>
<text x="727" y="512" textLength="62" lengthAdjust="spacingAndGlyphs">(dodávka investor)</text>
<text x="1005" y="494" textLength="43" lengthAdjust="spacingAndGlyphs">ECB12 Master</text>
<text x="1005" y="503" textLength="62" lengthAdjust="spacingAndGlyphs">(dodávka investor)</text>
<text x="1083" y="494" textLength="38" lengthAdjust="spacingAndGlyphs">ECB10 Slave</text>
<text x="1083" y="503" textLength="62" lengthAdjust="spacingAndGlyphs">(dodávka investor)</text>
<text x="540" y="181" font-size="6">106.C.1</text>
<text x="626" y="181" font-size="6">107.A.3</text>
<text x="323" y="325" font-size="6">106.X.1</text>
<text x="1010" y="251" font-size="6">107.X.1</text>
<text x="1125" y="212" font-size="6">107.C.1</text>
<text x="382" y="415" font-size="6">106.D.3</text>
<text x="461" y="415" font-size="6">106.D.1</text>
<text x="545" y="396" font-size="6">106.C.3</text>
<text x="625" y="396" font-size="6">107.A.1</text>
<text x="711" y="417" font-size="6">107.D.3</text>
<text x="1125" y="418" font-size="6">107.D.1</text>
</g>

<!-- ============ ROOM NUMBERS ============ -->
<g class="k" font-size="15">
<text x="197" y="304">106</text>
<text x="1059" y="285">107</text>
<text x="513" y="472">104</text>
<text x="236" y="577">105</text>
<text x="1368" y="531">120</text>
</g>

<!-- ============ SMALL DUCT LABELS ============ -->
<g class="ds">
<text x="149" y="156">1050</text><text x="200" y="156">1050</text><text x="254" y="156">1050</text><text x="308" y="156">1050</text><text x="361" y="156">1050</text><text x="421" y="156">1350</text>
<text x="145" y="168">280m3/h</text><text x="197" y="168">280m3/h</text><text x="251" y="168">280m3/h</text><text x="305" y="168">280m3/h</text><text x="358" y="168">280m3/h</text><text x="418" y="168">340m3/h</text>
<text x="766" y="160">1500</text><text x="826" y="160">900</text><text x="880" y="160">1200</text><text x="942" y="160">1200</text><text x="1005" y="160">1200</text><text x="1076" y="160">1500</text>
<text x="759" y="168">410m3/h</text><text x="819" y="168">245m3/h</text><text x="873" y="168">325m3/h</text><text x="935" y="168">325m3/h</text><text x="998" y="168">325m3/h</text><text x="1069" y="168">410m3/h</text>
<text x="149" y="418">1050</text><text x="200" y="418">1050</text><text x="254" y="418">1050</text><text x="308" y="418">1050</text><text x="361" y="418">1050</text><text x="427" y="418">1350</text>
<text x="421" y="410">340m3/h</text>
<text x="745" y="418">410m3/h  1500</text><text x="820" y="413">245m3/h</text><text x="826" y="421">900</text>
<text x="879" y="421">1200</text><text x="942" y="421">1200</text><text x="1005" y="421">1200</text><text x="1063" y="421">1500  410m3/h</text>
<text x="167" y="379">280m3/h</text><text x="222" y="393">280m3/h</text><text x="276" y="393">280m3/h</text><text x="330" y="393">280m3/h</text>
<text x="862" y="375">325m3/h</text><text x="926" y="375">325m3/h</text><text x="990" y="375">325m3/h</text>
<text x="166" y="228">DN160</text><text x="210" y="219">DN250</text><text x="330" y="211">DN160</text><text x="369" y="219">DN250</text>
<text x="530" y="219">DN250</text><text x="530" y="238">DN250</text>
<text x="634" y="213">DN200</text><text x="634" y="229">DN250</text><text x="634" y="245">DN250</text>
<text x="734" y="213">DN200</text><text x="712" y="194">DN160</text><text x="767" y="204">DN160</text>
<text x="872" y="229">DN250</text><text x="911" y="229">DN160</text><text x="1046" y="221">DN250</text><text x="1086" y="228">DN160</text>
<text x="474" y="290">DN250</text><text x="474" y="315">DN250</text><text x="414" y="333">DN250</text>
<text x="183" y="367">DN160</text><text x="221" y="367">DN250</text>
<text x="696" y="290">DN250</text><text x="696" y="309">DN250</text><text x="696" y="328">DN200</text>
<text x="1036" y="360">DN250</text>
<text x="532" y="258">315x315</text><text x="532" y="266">250x315</text>
<text x="612" y="254">315x315</text><text x="612" y="266">250x315</text>
<text x="539" y="297">800</text><text x="638" y="297">800</text>
<text x="492" y="337">250</text><text x="520" y="337">300</text>
<text x="660" y="341">300</text><text x="688" y="341">250</text>
<text x="586" y="344">250</text><text x="596" y="344">250</text><text x="586" y="352">315</text><text x="596" y="352">315</text>
<text x="586" y="280">-375</text><text x="589" y="288">-375</text>
<text x="290" y="209">45°</text><text x="303" y="249">45°</text><text x="387" y="287">45°</text><text x="308" y="356">45°</text>
<text x="232" y="381">45°</text><text x="286" y="381">45°</text><text x="402" y="340">45°</text><text x="420" y="367">45°</text><text x="388" y="367">45°</text>
<text x="975" y="212">45°</text><text x="962" y="254">45°</text><text x="882" y="280">45°</text><text x="770" y="357">45°</text>
<text x="814" y="300">45°</text><text x="860" y="329">45°</text><text x="840" y="345">45°</text><text x="955" y="348">45°</text>
<text x="985" y="374">45°</text><text x="1043" y="374">45°</text>
<text x="817" y="266">2%</text><text x="330" y="433">2%</text>
</g>
<g class="ds">
<text transform="translate(209,208) rotate(-90)">DN160</text>
<text transform="translate(263,208) rotate(-90)">DN160</text>
<text transform="translate(370,208) rotate(-90)">DN160</text>
<text transform="translate(416,208) rotate(-90)">DN160</text>
<text transform="translate(446,208) rotate(-90)">DN160</text>
<text transform="translate(826,213) rotate(-90)">DN160</text>
<text transform="translate(881,213) rotate(-90)">DN160</text>
<text transform="translate(1006,210) rotate(-90)">DN160</text>
<text transform="translate(1060,210) rotate(-90)">DN160</text>
<text transform="translate(153,385) rotate(-90)">156</text>
<text transform="translate(151,197) rotate(-90)">100</text>
<text transform="translate(174,210) rotate(-90)">200</text>
<text transform="translate(1087,192) rotate(-90)">200</text>
<text transform="translate(1112,197) rotate(-90)">100</text>
<text transform="translate(125,162) rotate(-90)">156</text>
<text transform="translate(1128,162) rotate(-90)">156</text>
<text transform="translate(211,395) rotate(-90)">DN160</text>
<text transform="translate(264,395) rotate(-90)">DN160</text>
<text transform="translate(316,395) rotate(-90)">DN160</text>
<text transform="translate(371,395) rotate(-90)">DN160</text>
<text transform="translate(417,395) rotate(-90)">DN160</text>
<text transform="translate(755,396) rotate(-90)">DN160</text>
<text transform="translate(795,396) rotate(-90)">DN160</text>
<text transform="translate(830,396) rotate(-90)">DN160</text>
<text transform="translate(895,396) rotate(-90)">DN160</text>
<text transform="translate(955,396) rotate(-90)">DN160</text>
<text transform="translate(1019,396) rotate(-90)">DN160</text>
<text transform="translate(1075,396) rotate(-90)">DN160</text>
<text transform="translate(1110,396) rotate(-90)">DN160</text>
<text transform="translate(825,375) rotate(-90)">DN250</text>
<text transform="translate(522,320) rotate(-90)">1192x178</text>
<text transform="translate(535,310) rotate(-90)">1400</text>
<text transform="translate(555,318) rotate(-90)">1354x210</text>
<text transform="translate(633,318) rotate(-90)">1354x210</text>
<text transform="translate(655,310) rotate(-90)">1400</text>
<text transform="translate(664,320) rotate(-90)">1192x178</text>
<text transform="translate(587,320) rotate(-90)">1500+</text>
<text transform="translate(600,320) rotate(-90)">1500+</text>
<text transform="translate(587,236) rotate(-90)">1200+</text>
<text transform="translate(600,236) rotate(-90)">1200+</text>
<text transform="translate(546,198) rotate(-90)">-2280</text>
<text transform="translate(658,198) rotate(-90)">-2280</text>
<text transform="translate(568,193) rotate(-90)">800</text>
<text transform="translate(621,193) rotate(-90)">800</text>
<text transform="translate(572,240) rotate(-90)">450</text>
<text transform="translate(442,308) rotate(-90)">580</text>
<text transform="translate(757,318) rotate(-90)">385</text>
<text transform="translate(540,416) rotate(-90)">2%</text>
<text transform="translate(1171,318) rotate(-90)">2%</text>
<text transform="translate(1233,412) rotate(-90)">2%</text>
</g>
</svg>
</body></html>
